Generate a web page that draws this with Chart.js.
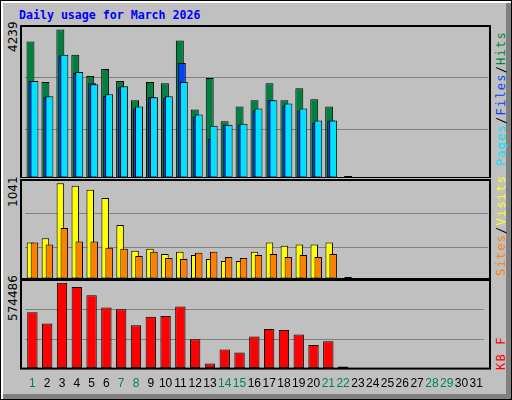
<!DOCTYPE html>
<html><head><meta charset="utf-8">
<script src="https://cdn.jsdelivr.net/npm/chart.js@4/dist/chart.umd.min.js"></script>
<style>
html,body{margin:0;padding:0;background:#C0C0C0;}
#frame{position:absolute;left:0;top:0;width:510px;height:398px;border:1px solid #000;background:#C0C0C0;box-shadow:inset 2px 2px 0 #fff, inset -5px -5px 0 #808080;}
.c{position:absolute;}
.lbl{position:absolute;transform-origin:left top;transform:rotate(-90deg);white-space:nowrap;font-family:"DejaVu Sans";font-size:12px;color:#000;}
.rl{position:absolute;transform-origin:left top;transform:rotate(-90deg);white-space:nowrap;font-family:"DejaVu Sans Mono";font-size:12px;letter-spacing:1.2px;}
#title{position:absolute;left:19px;top:8px;font-family:"DejaVu Sans Mono";font-weight:bold;font-size:11.6px;color:#0000FF;}
</style></head><body>
<div id="frame"></div>
<div id="title">Daily usage for March 2026</div>
<div class="c" style="left:20px;top:25px;width:471px;height:153px;"><canvas id="c1"></canvas></div>
<div class="c" style="left:20px;top:179px;width:471px;height:100px;"><canvas id="c2"></canvas></div>
<div class="c" style="left:20px;top:279px;width:471px;height:120px;"><canvas id="c3"></canvas></div>
<div class="lbl" id="l1" style="left:6px;top:52px;"></div>
<div class="lbl" id="l2" style="left:6px;top:207px;"></div>
<div class="lbl" id="l3" style="left:6px;top:321px;"></div>
<div class="rl" style="left:494px;top:166px;"><span style="color:#00E0FF">Pages</span>/<span style="color:#0040FF">Files</span>/<span style="color:#008040">Hits</span></div>
<div class="rl" style="left:494px;top:276px;"><span style="color:#FF8000">Sites</span>/<span style="color:#FFFF00">Visits</span></div>
<div class="rl" style="left:494px;top:370px;"><span style="color:#FF0000">KB F</span></div>
<script>
const days = ['1','2','3','4','5','6','7','8','9','10','11','12','13','14','15','16','17','18','19','20','21','22','23','24','25','26','27','28','29','30','31'];
const weekend = [1,7,8,14,15,21,22,28,29];
const hits  = [3892,2736,4239,3516,2909,3112,2765,2216,2736,2707,3921,1956,2852,1619,2042,2216,2707,2216,2563,2245,2042,0];
const files = [2765,2303,3497,2996,2707,2341,2592,1985,2303,2274,3285,1753,1118,1522,1522,1927,2216,2071,1927,1580,1638,0];
const pages = [2765,2331,3516,3025,2678,2389,2620,2042,2303,2331,2736,1811,1493,1522,1551,1985,2216,2129,1985,1638,1638,0];
const visits= [397,442,1041,1015,970,880,588,307,330,273,296,262,217,195,195,296,397,363,375,375,397,0];
const sites = [397,375,554,408,408,341,330,251,296,228,217,285,296,240,228,262,273,240,262,240,273,0];
const kbytes= [378100,302900,574486,547300,490900,409400,396900,290400,346800,353000,415700,196400,33400,127400,108600,215200,265300,259000,227700,158800,183800,0];

document.getElementById('l1').textContent = Math.max(...hits);
document.getElementById('l2').textContent = Math.max(...visits);
document.getElementById('l3').textContent = Math.max(...kbytes);

const orderedDraw = {id:'od', beforeDatasetsDraw(chart){
  for(let i=0;i<chart.data.datasets.length;i++){ chart.getDatasetMeta(i).controller.draw(); }
  return false;
}};
const frame = {id:'fr', afterDraw(chart){
  const a=chart.chartArea, c=chart.ctx;
  c.save(); c.strokeStyle='#000'; c.lineWidth=2; c.strokeRect(1,a.top+1,chart.width-2,a.bottom-a.top-1); c.restore();
}};
function ds(data,color,extra){
  return Object.assign({data:data,backgroundColor:(ctx)=>ctx.raw===0?'#000':color,borderColor:'#000',borderWidth:1,borderSkipped:false},extra||{});
}
function opts(maxv,cat,bar,xshow){
  return {responsive:true,maintainAspectRatio:false,animation:false,
    layout:{padding:{left:5,right:3,top:0,bottom:0}},
    plugins:{legend:{display:false},tooltip:{enabled:false}},
    datasets:{bar:{categoryPercentage:cat,barPercentage:bar}},
    scales:{
      x:{display:xshow,grid:{display:false,drawTicks:false},border:{display:false},
        ticks:{autoSkip:false,maxRotation:0,padding:8,font:{family:'Liberation Sans',size:12},
          color:(ctx)=>weekend.includes(ctx.index+1)?'#008060':'#000'}},
      y:{min:0,max:maxv,display:true,ticks:{display:false},border:{display:false},
        grid:{color:'#808080',lineWidth:1,drawTicks:false},
        afterBuildTicks:(s)=>{s.ticks=[{value:0},{value:s.max*0.32},{value:s.max*0.66}];}}
    }};
}
new Chart(document.getElementById('c1'),{type:'bar',plugins:[orderedDraw,frame],
  data:{labels:days,datasets:[ds(hits,'#008040'),ds(files,'#0040FF'),ds(pages,'#00E0FF',{minBarLength:2})]},
  options:opts(Math.max(...hits)*1.03,0.4,4,false)});
new Chart(document.getElementById('c2'),{type:'bar',plugins:[orderedDraw,frame],
  data:{labels:days,datasets:[ds(visits,'#FFFF00'),ds(sites,'#FF8000',{minBarLength:2})]},
  options:opts(Math.max(...visits)*1.045,0.53,1.9,false)});
new Chart(document.getElementById('c3'),{type:'bar',plugins:[orderedDraw,frame],
  data:{labels:days,datasets:[ds(kbytes,'#FF0000',{minBarLength:2})]},
  options:opts(Math.max(...kbytes)*1.045,0.7,1.0,true)});
</script></body></html>
